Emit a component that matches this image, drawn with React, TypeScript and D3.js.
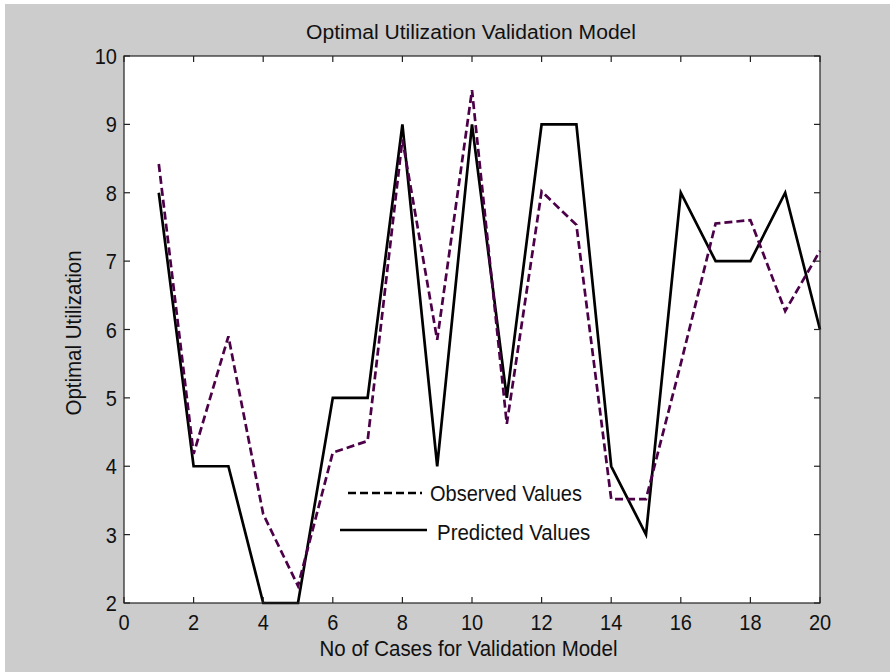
import React from "react";
import * as d3 from "d3";

const cases = [1, 2, 3, 4, 5, 6, 7, 8, 9, 10, 11, 12, 13, 14, 15, 16, 17, 18, 19, 20];
const observed = [8.42, 4.18, 5.9, 3.3, 2.25, 4.2, 4.37, 8.78, 5.85, 9.5, 4.62, 8.02, 7.53, 3.52, 3.52, 5.5, 7.55, 7.6, 6.27, 7.15];
const predicted = [8, 4, 4, 2, 2, 5, 5, 9, 4, 9, 5, 9, 9, 4, 3, 8, 7, 7, 8, 6];
const xTicks = [0, 2, 4, 6, 8, 10, 12, 14, 16, 18, 20];
const yTicks = [2, 3, 4, 5, 6, 7, 8, 9, 10];

const title = "Optimal Utilization Validation Model";
const xLabel = "No of Cases for Validation Model";
const yLabel = "Optimal Utilization";
const legendLabels = ["Observed Values", "Predicted Values"];

export default function App() {
  const W = 890, H = 672;
  const L = 124, R = 820, T = 56, B = 603;
  const x = d3.scaleLinear().domain([0, 20]).range([L, R]);
  const y = d3.scaleLinear().domain([2, 10]).range([B, T]);
  const line = d3.line<number>().x((_, i) => x(cases[i])).y((d) => y(d));
  const font = "'Liberation Sans', Arial, Helvetica, sans-serif";
  const tick = 6;
  const sy = 1.1;
  const T_ = (props: { x: number; y: number; size: number; anchor?: string; rot?: boolean; children: React.ReactNode; len?: number }) => (
    <text
      transform={`translate(${props.x},${props.y})${props.rot ? " rotate(-90)" : ""} scale(1,${sy})`}
      x={0}
      y={0}
      fontSize={props.size}
      textAnchor={props.anchor || "start"}
      fill="#111"
      textLength={props.len}
      lengthAdjust={props.len ? "spacingAndGlyphs" : undefined}
    >
      {props.children}
    </text>
  );
  return (
    <svg width={W} height={H} style={{ position: "absolute", left: 0, top: 0 }} fontFamily={font}>
      <rect x={0} y={0} width={W} height={H} fill="#ffffff" />
      <rect x={5} y={4} width={W - 5} height={H - 4} fill="#cccccc" />
      <rect x={L} y={T} width={R - L} height={B - T} fill="#ffffff" />
      <path d={line(predicted) || ""} fill="none" stroke="#000" strokeWidth={2.7} strokeLinejoin="miter" />
      <path d={line(observed) || ""} fill="none" stroke="#4b0048" strokeWidth={2.7} strokeDasharray="8 4" />
      <rect x={L} y={T} width={R - L} height={B - T} fill="none" stroke="#222" strokeWidth={1.2} />
      {xTicks.map((t) => (
        <g key={"x" + t}>
          <line x1={x(t)} x2={x(t)} y1={B} y2={B - tick} stroke="#222" strokeWidth={1.2} />
          <line x1={x(t)} x2={x(t)} y1={T} y2={T + tick} stroke="#222" strokeWidth={1.2} />
          <T_ x={x(t)} y={630} size={20} anchor="middle">{t}</T_>
        </g>
      ))}
      {yTicks.map((t) => (
        <g key={"y" + t}>
          <line x1={L} x2={L + tick} y1={y(t)} y2={y(t)} stroke="#222" strokeWidth={1.2} />
          <line x1={R} x2={R - tick} y1={y(t)} y2={y(t)} stroke="#222" strokeWidth={1.2} />
          <T_ x={117} y={y(t) + 8} size={20} anchor="end">{t}</T_>
        </g>
      ))}
      <T_ x={471} y={39} size={18} anchor="middle" len={330}>{title}</T_>
      <T_ x={468.5} y={656} size={20.5} anchor="middle">{xLabel}</T_>
      <T_ x={81} y={333} size={20.5} anchor="middle" rot>{yLabel}</T_>
      <line x1={348} x2={422} y1={493} y2={493} stroke="#000" strokeWidth={2.7} strokeDasharray="8 4" />
      <T_ x={430} y={501} size={20}>{legendLabels[0]}</T_>
      <line x1={340} x2={427} y1={530} y2={530} stroke="#000" strokeWidth={2.7} />
      <T_ x={437} y={540} size={20.5}>{legendLabels[1]}</T_>
    </svg>
  );
}
